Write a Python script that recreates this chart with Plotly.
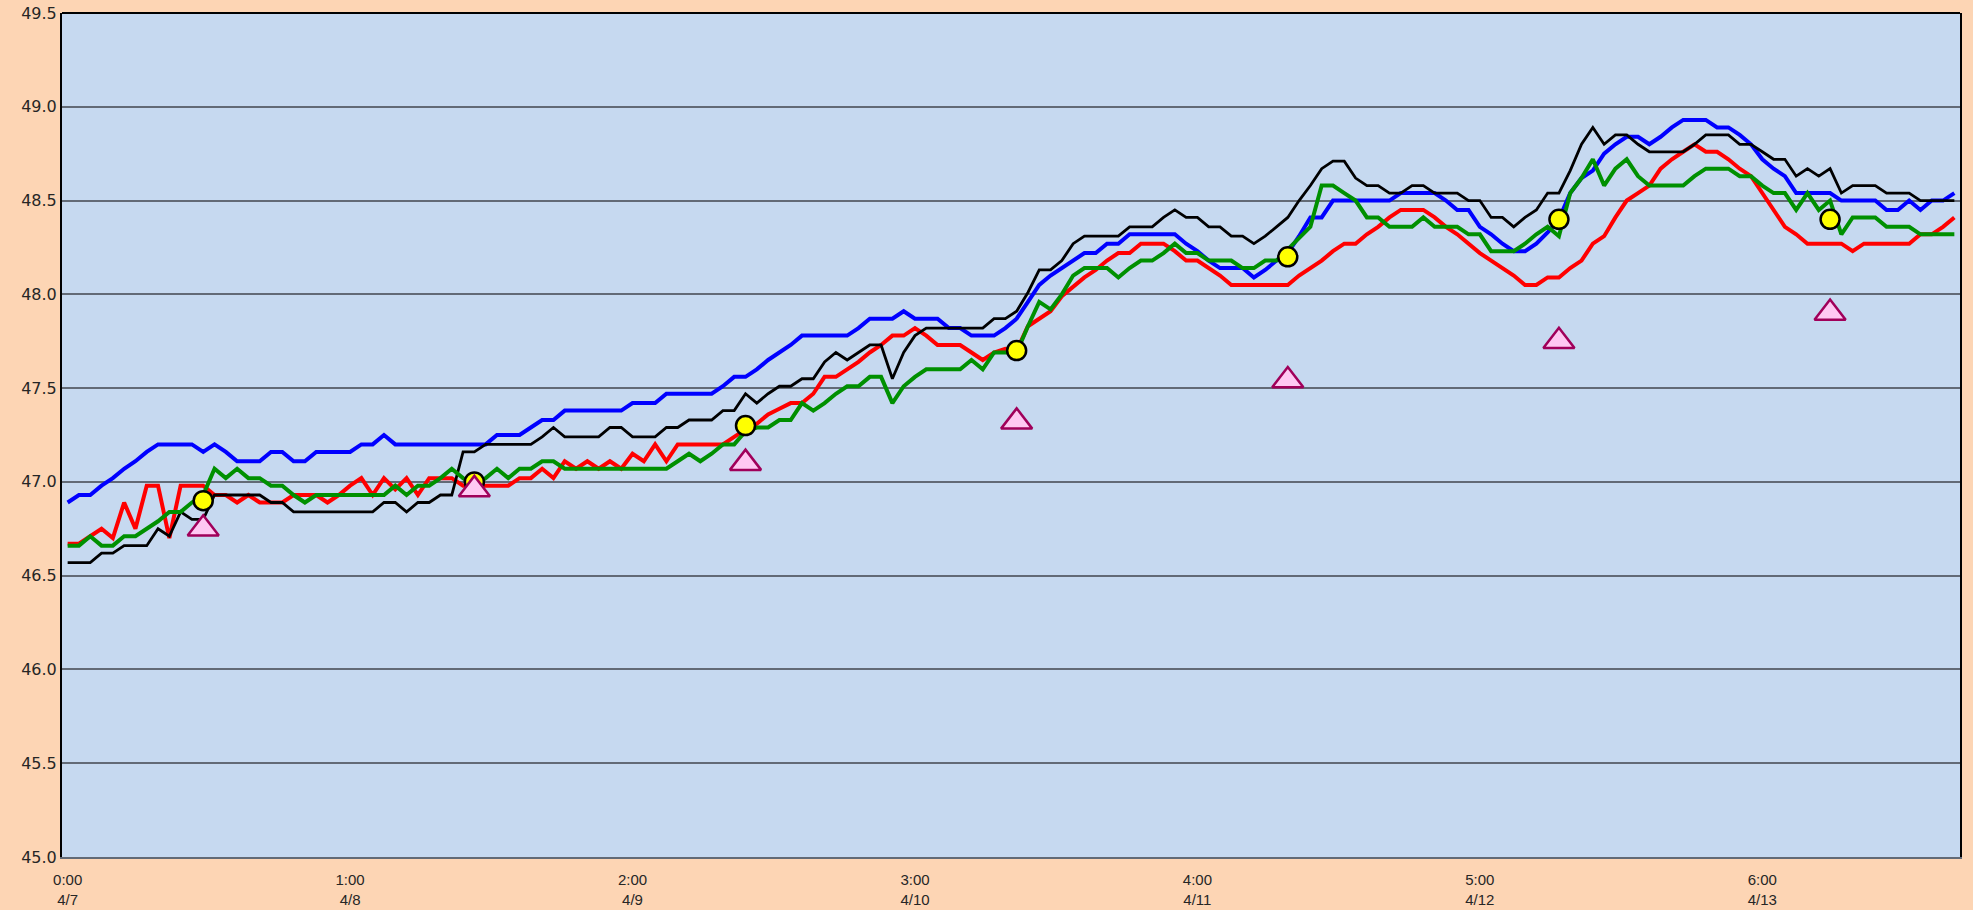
import plotly.graph_objects as go

# hourly series, 168 points (4/7 0:00 .. 4/13 23:00)
blue = [46.89, 46.93, 46.93, 46.98, 47.02, 47.07, 47.11, 47.16, 47.20, 47.20,
        47.20, 47.20, 47.16, 47.20, 47.16, 47.11, 47.11, 47.11, 47.16, 47.16,
        47.11, 47.11, 47.16, 47.16, 47.16, 47.16, 47.20, 47.20, 47.25, 47.20,
        47.20, 47.20, 47.20, 47.20, 47.20, 47.20, 47.20, 47.20, 47.25, 47.25,
        47.25, 47.29, 47.33, 47.33, 47.38, 47.38, 47.38, 47.38, 47.38, 47.38,
        47.42, 47.42, 47.42, 47.47, 47.47, 47.47, 47.47, 47.47, 47.51, 47.56,
        47.56, 47.60, 47.65, 47.69, 47.73, 47.78, 47.78, 47.78, 47.78, 47.78,
        47.82, 47.87, 47.87, 47.87, 47.91, 47.87, 47.87, 47.87, 47.82, 47.82,
        47.78, 47.78, 47.78, 47.82, 47.87, 47.96, 48.05, 48.10, 48.14, 48.18,
        48.22, 48.22, 48.27, 48.27, 48.32, 48.32, 48.32, 48.32, 48.32, 48.27,
        48.23, 48.18, 48.14, 48.14, 48.14, 48.09, 48.13, 48.18, 48.22, 48.31,
        48.41, 48.41, 48.50, 48.50, 48.50, 48.50, 48.50, 48.50, 48.54, 48.54,
        48.54, 48.54, 48.50, 48.45, 48.45, 48.36, 48.32, 48.27, 48.23, 48.23,
        48.27, 48.33, 48.40, 48.54, 48.62, 48.66, 48.75, 48.80, 48.84, 48.84,
        48.80, 48.84, 48.89, 48.93, 48.93, 48.93, 48.89, 48.89, 48.85, 48.80,
        48.72, 48.67, 48.63, 48.54, 48.54, 48.54, 48.54, 48.50, 48.50, 48.50,
        48.50, 48.45, 48.45, 48.50, 48.45, 48.50, 48.50, 48.54]

red = [46.67, 46.67, 46.71, 46.75, 46.70, 46.89, 46.75, 46.98, 46.98, 46.70,
       46.98, 46.98, 46.98, 46.93, 46.93, 46.89, 46.93, 46.89, 46.89, 46.89,
       46.93, 46.93, 46.93, 46.89, 46.93, 46.98, 47.02, 46.93, 47.02, 46.96,
       47.02, 46.93, 47.02, 47.02, 47.02, 46.98, 46.98, 46.98, 46.98, 46.98,
       47.02, 47.02, 47.07, 47.02, 47.11, 47.07, 47.11, 47.07, 47.11, 47.07,
       47.15, 47.11, 47.20, 47.11, 47.20, 47.20, 47.20, 47.20, 47.20, 47.24,
       47.28, 47.31, 47.36, 47.39, 47.42, 47.42, 47.47, 47.56, 47.56, 47.60,
       47.64, 47.69, 47.73, 47.78, 47.78, 47.82, 47.78, 47.73, 47.73, 47.73,
       47.69, 47.65, 47.69, 47.71, 47.70, 47.83, 47.87, 47.91, 47.99, 48.04,
       48.09, 48.13, 48.18, 48.22, 48.22, 48.27, 48.27, 48.27, 48.23, 48.18,
       48.18, 48.14, 48.10, 48.05, 48.05, 48.05, 48.05, 48.05, 48.05, 48.10,
       48.14, 48.18, 48.23, 48.27, 48.27, 48.32, 48.36, 48.41, 48.45, 48.45,
       48.45, 48.41, 48.36, 48.32, 48.27, 48.22, 48.18, 48.14, 48.10, 48.05,
       48.05, 48.09, 48.09, 48.14, 48.18, 48.27, 48.31, 48.41, 48.50, 48.54,
       48.58, 48.67, 48.72, 48.76, 48.80, 48.76, 48.76, 48.72, 48.67, 48.63,
       48.54, 48.45, 48.36, 48.32, 48.27, 48.27, 48.27, 48.27, 48.23, 48.27,
       48.27, 48.27, 48.27, 48.27, 48.32, 48.32, 48.36, 48.41]

green = [46.66, 46.66, 46.71, 46.66, 46.66, 46.71, 46.71, 46.75, 46.79, 46.84,
         46.84, 46.89, 46.93, 47.07, 47.02, 47.07, 47.02, 47.02, 46.98, 46.98,
         46.93, 46.89, 46.93, 46.93, 46.93, 46.93, 46.93, 46.93, 46.93, 46.98,
         46.93, 46.98, 46.98, 47.02, 47.07, 47.02, 46.98, 47.02, 47.07, 47.02,
         47.07, 47.07, 47.11, 47.11, 47.07, 47.07, 47.07, 47.07, 47.07, 47.07,
         47.07, 47.07, 47.07, 47.07, 47.11, 47.15, 47.11, 47.15, 47.20, 47.20,
         47.27, 47.29, 47.29, 47.33, 47.33, 47.42, 47.38, 47.42, 47.47, 47.51,
         47.51, 47.56, 47.56, 47.42, 47.51, 47.56, 47.60, 47.60, 47.60, 47.60,
         47.65, 47.60, 47.69, 47.69, 47.69, 47.83, 47.96, 47.92, 48.00, 48.10,
         48.14, 48.14, 48.14, 48.09, 48.14, 48.18, 48.18, 48.22, 48.27, 48.22,
         48.22, 48.18, 48.18, 48.18, 48.14, 48.14, 48.18, 48.18, 48.24, 48.30,
         48.36, 48.58, 48.58, 48.54, 48.50, 48.41, 48.41, 48.36, 48.36, 48.36,
         48.41, 48.36, 48.36, 48.36, 48.32, 48.32, 48.23, 48.23, 48.23, 48.27,
         48.32, 48.36, 48.31, 48.54, 48.62, 48.72, 48.58, 48.67, 48.72, 48.63,
         48.58, 48.58, 48.58, 48.58, 48.63, 48.67, 48.67, 48.67, 48.63, 48.63,
         48.58, 48.54, 48.54, 48.45, 48.54, 48.45, 48.50, 48.32, 48.41, 48.41,
         48.41, 48.36, 48.36, 48.36, 48.32, 48.32, 48.32, 48.32]

black = [46.57, 46.57, 46.57, 46.62, 46.62, 46.66, 46.66, 46.66, 46.75, 46.71,
         46.84, 46.80, 46.80, 46.93, 46.93, 46.93, 46.93, 46.93, 46.89, 46.89,
         46.84, 46.84, 46.84, 46.84, 46.84, 46.84, 46.84, 46.84, 46.89, 46.89,
         46.84, 46.89, 46.89, 46.93, 46.93, 47.16, 47.16, 47.20, 47.20, 47.20,
         47.20, 47.20, 47.24, 47.29, 47.24, 47.24, 47.24, 47.24, 47.29, 47.29,
         47.24, 47.24, 47.24, 47.29, 47.29, 47.33, 47.33, 47.33, 47.38, 47.38,
         47.47, 47.42, 47.47, 47.51, 47.51, 47.55, 47.55, 47.64, 47.69, 47.65,
         47.69, 47.73, 47.73, 47.55, 47.69, 47.78, 47.82, 47.82, 47.82, 47.82,
         47.82, 47.82, 47.87, 47.87, 47.91, 48.01, 48.13, 48.13, 48.18, 48.27,
         48.31, 48.31, 48.31, 48.31, 48.36, 48.36, 48.36, 48.41, 48.45, 48.41,
         48.41, 48.36, 48.36, 48.31, 48.31, 48.27, 48.31, 48.36, 48.41, 48.50,
         48.58, 48.67, 48.71, 48.71, 48.62, 48.58, 48.58, 48.54, 48.54, 48.58,
         48.58, 48.54, 48.54, 48.54, 48.50, 48.50, 48.41, 48.41, 48.36, 48.41,
         48.45, 48.54, 48.54, 48.66, 48.80, 48.89, 48.80, 48.85, 48.85, 48.80,
         48.76, 48.76, 48.76, 48.76, 48.80, 48.85, 48.85, 48.85, 48.80, 48.80,
         48.76, 48.72, 48.72, 48.63, 48.67, 48.63, 48.67, 48.54, 48.58, 48.58,
         48.58, 48.54, 48.54, 48.54, 48.50, 48.50, 48.50, 48.50]

# daily noon readings (category index of each point, value)
point_idx = [12, 36, 60, 84, 108, 132, 156]
circle_vals = [46.90, 47.00, 47.30, 47.70, 48.20, 48.40, 48.40]
triangle_vals = [46.75, 46.96, 47.10, 47.32, 47.54, 47.75, 47.90]

# axis labels
tick_idx = [0, 25, 50, 75, 100, 125, 150]
tick_times = ["0:00", "1:00", "2:00", "3:00", "4:00", "5:00", "6:00"]
tick_dates = ["4/7", "4/8", "4/9", "4/10", "4/11", "4/12", "4/13"]

x = list(range(len(blue)))

fig = go.Figure()
fig.add_trace(go.Scatter(x=x, y=blue, mode="lines", line=dict(color="#0000FF", width=4), name="blue"))
fig.add_trace(go.Scatter(x=x, y=red, mode="lines", line=dict(color="#FF0000", width=4), name="red"))
fig.add_trace(go.Scatter(x=x, y=black, mode="lines", line=dict(color="#000000", width=2.8), name="black"))
fig.add_trace(go.Scatter(x=x, y=green, mode="lines", line=dict(color="#009000", width=4), name="green"))
fig.add_trace(go.Scatter(x=point_idx, y=circle_vals, mode="markers",
                         marker=dict(symbol="circle", size=19, color="#FFFF00",
                                     line=dict(color="#000000", width=2.5)), name="circles"))
fig.add_trace(go.Scatter(x=point_idx, y=triangle_vals, mode="markers",
                         marker=dict(symbol="triangle-up", size=27, color="#FFC8F2",
                                     line=dict(color="#A0005A", width=2.5)), name="triangles"))

fig.update_layout(
    width=1973, height=910,
    margin=dict(l=62, r=13, t=13, b=53, autoexpand=False),
    paper_bgcolor="#FDD5B4",
    plot_bgcolor="#C6D9F0",
    showlegend=False,
    xaxis=dict(
        range=[-0.5, 167.5],
        automargin=False,
        tickmode="array",
        tickvals=tick_idx,
        ticktext=[f"{t}<br>{d}" for t, d in zip(tick_times, tick_dates)],
        showgrid=False, zeroline=False,
        showline=True, linecolor="#626a76", linewidth=2,
        ticks="outside", ticklen=8, tickcolor="rgba(0,0,0,0)",
        tickfont=dict(family="Liberation Sans, Arial, sans-serif", size=15, color="#262626"),
    ),
    yaxis=dict(
        range=[45.0, 49.5],
        automargin=False,
        tick0=45.0, dtick=0.5, tickformat=".1f",
        showgrid=True, gridcolor="#626a76", gridwidth=2,
        zeroline=False,
        showline=True, linecolor="#000000", linewidth=2, mirror=True,
        ticks="", ticklen=0,
        tickfont=dict(family="DejaVu Sans, Verdana, sans-serif", size=16, color="#262626"),
    ),
)
fig.add_shape(type="line", xref="paper", yref="paper", x0=0, x1=1, y0=1, y1=1,
              line=dict(color="#000000", width=2))

fig.write_html(
    "out.html",
    config={"displayModeBar": False},
    post_script="document.body.style.margin='0';document.body.style.background='#FDD5B4';",
)
